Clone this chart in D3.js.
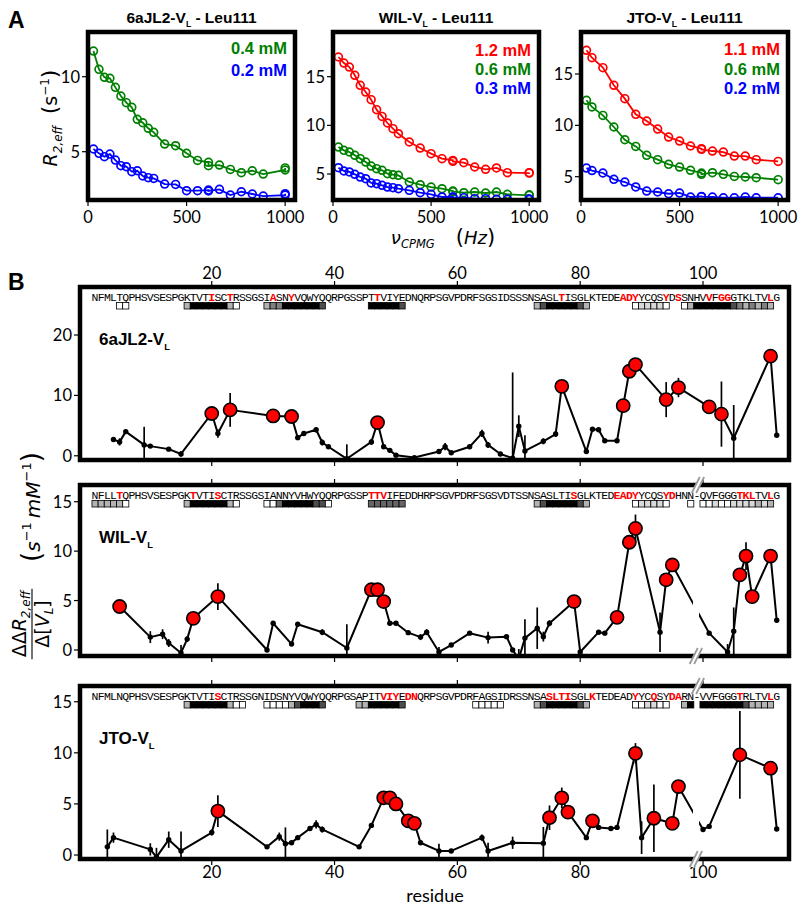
<!DOCTYPE html>
<html><head><meta charset="utf-8">
<script src="https://cdn.jsdelivr.net/npm/d3@7"></script>
<style>body{margin:0;background:#fff}</style>
</head><body><svg id="c" width="800" height="911"></svg>
<script>
// ---------------- DATA ----------------
// Panel A: CPMG dispersion of Leu111
const nuA12 = [27.8,55.6,83.3,111.1,138.9,166.7,194.4,222.2,250,277.8,305.6,333.3,388.9,444.4,500,555.6,611.1,611.1,666.7,722.2,777.8,833.3,888.9,1000,1000];
const nuA3 = [27.8,55.6,111.1,166.7,222.2,277.8,333.3,388.9,444.4,500,555.6,611.1,611.1,666.7,722.2,777.8,833.3,888.9,1000];
const a1Green = [11.71,10.49,9.96,9.89,9.29,8.71,8.27,7.96,7.16,6.93,6.56,6.29,5.51,5.40,4.89,4.42,4.29,4.07,4.11,3.82,3.60,3.73,3.51,3.78,3.92];
const a1Blue  = [5.18,4.89,4.67,4.84,4.44,4.07,4.00,3.67,3.73,3.38,3.27,3.22,2.84,2.82,2.40,2.40,2.44,2.38,2.49,2.11,2.33,2.18,2.04,2.11,2.20];
const a2Red   = [17.02,16.40,15.99,15.14,14.11,13.42,12.64,11.61,10.92,10.24,9.66,9.14,8.29,7.67,7.09,6.58,6.40,6.30,6.16,5.72,5.48,5.62,5.14,5.10,5.14];
const a2Green = [7.77,7.43,7.26,6.92,6.58,6.23,5.82,5.55,5.38,5.03,4.93,4.86,4.18,3.90,3.66,3.49,3.25,3.20,3.08,3.15,3.05,3.15,2.91,2.81,2.86];
const a2Blue  = [5.65,5.31,5.21,4.97,4.69,4.52,4.08,4.01,3.84,3.66,3.60,3.49,3.32,3.08,2.91,2.64,2.64,2.60,2.57,2.47,2.47,2.40,2.40,2.40,2.43];
const a3Red   = [17.31,16.59,15.62,13.90,12.60,11.07,10.42,9.64,8.86,8.47,7.99,7.73,7.66,7.50,7.40,7.01,7.01,6.66,6.49];
const a3Green = [12.44,11.79,10.97,9.84,8.60,7.95,7.08,6.66,6.20,5.94,5.62,5.36,5.23,5.39,5.23,5.03,4.97,4.90,4.71];
const a3Blue  = [5.84,5.60,5.36,4.74,4.48,4.00,3.60,3.51,3.34,3.41,3.02,3.08,3.05,3.02,2.95,2.95,3.02,2.95,2.95];
const concA1 = ['0.4 mM','0.2 mM'];
const concA2 = ['1.2 mM','0.6 mM','0.3 mM'];
const concA3 = ['1.1 mM','0.6 mM','0.2 mM'];
const xTicksA = [0,500,1000];

// Panel B: per-residue ΔΔR2,eff
const res6a = [4,5,6,9,10,13,15,20,21,23,30,33,34,35,37,38,39,42,46,47,48,49,50,53,57,58,59,62,64,65,67,69,70,71,74,76,77,81,82,83,84,86,87,88,89,94,96,101,103,105,111,112];
const val6a = [2.7,2.3,4.0,1.8,1.6,1.1,0.3,7.0,3.7,7.6,6.6,6.5,3.0,3.7,4.3,2.2,1.5,-0.5,2.3,5.5,1.5,0.9,0.1,-0.3,0.7,1.5,0.5,1.5,3.7,1.8,0.3,-0.4,4.9,0.8,2.4,3.6,11.5,0.7,4.4,4.3,2.5,2.5,8.3,14.0,15.1,9.3,11.3,8.1,6.9,2.9,16.5,3.4];
const err6a = [0.4,0.6,0.3,3.0,0.3,0.2,0.4,0.5,0.7,2.8,0.5,0.4,0.4,0.3,0.4,0.5,0.2,2.4,0.5,0.8,0.2,0.2,0.2,0.2,0.3,0.6,0.2,0.2,0.6,0.5,0.2,14.2,1.8,2.6,0.5,0.5,0.5,0.2,0.2,0.2,0.2,0.2,0.3,0.4,0.4,2.9,1.6,0.3,5.4,5.5,0.4,0.2];
const red6a = [20,23,30,33,47,77,87,88,89,94,96,101,103,111];

const resWIL = [5,10,12,13,15,16,17,21,29,30,33,34,38,42,46,47,48,49,50,52,54,55,57,59,62,65,68,69,70,71,73,74,75,79,80,83,84,86,88,89,93,94,95,101,104,105,106,107,108,111,112];
const valWIL = [4.4,1.3,1.6,0.7,-0.3,1.1,3.2,5.4,0.0,2.7,0.6,2.6,1.8,0.2,6.1,6.1,4.9,2.7,2.7,1.75,1.3,1.8,-0.2,0.5,1.7,1.25,1.35,0.0,-0.9,1.2,2.2,1.35,2.7,4.9,-0.2,1.8,1.7,3.3,10.9,12.3,1.8,7.1,8.6,1.7,-0.2,1.9,7.6,9.5,5.4,9.5,3.0];
const errWIL = [0.3,0.6,0.5,0.4,0.8,0.3,0.3,1.35,0.2,0.2,0.2,0.2,0.3,2.4,0.3,0.3,0.4,0.2,0.2,0.2,0.3,0.3,0.5,0.2,0.2,0.6,0.2,0.2,1.0,1.9,2.1,0.5,0.3,0.3,0.2,0.2,0.2,0.3,0.3,1.4,2.0,0.3,0.3,0.2,0.8,2.4,0.3,1.4,0.3,0.3,0.2];
const redWIL = [5,17,21,46,47,48,79,86,88,89,94,95,106,107,108,111];

const resJTO = [3,4,10,11,13,15,20,21,29,31,32,33,34,36,37,38,44,46,48,49,50,52,53,54,57,59,64,65,69,74,75,77,78,81,82,83,85,86,89,90,92,95,96,100,101,106,111,112];
const valJTO = [0.8,1.7,0.55,-0.2,1.5,0.4,2.2,4.3,0.8,1.8,1.1,1.2,1.7,2.6,3.0,2.5,0.8,2.9,5.6,5.6,5.0,3.35,3.1,1.2,0.4,0.4,1.7,0.4,1.2,1.15,3.65,5.6,4.2,1.7,3.35,2.7,2.6,2.7,9.95,1.7,3.6,3.1,6.7,2.5,2.8,9.8,8.5,2.55];
const errJTO = [1.7,0.5,0.6,0.9,0.8,1.9,0.3,1.55,0.2,0.4,1.6,0.2,0.2,0.2,0.4,0.3,0.2,0.2,0.3,0.3,0.3,0.3,0.3,0.2,0.7,0.2,0.3,0.8,0.6,1.6,1.2,1.0,0.3,0.2,0.3,0.2,0.2,0.2,1.0,1.6,3.3,0.3,0.3,0.2,0.2,4.3,0.3,0.2];
const redJTO = [21,48,49,50,52,53,75,77,78,82,89,92,95,96,106,111];

const seq6a  = "NFMLTQPHSVSESPGKTVTISCTRSSGSIASNYVQWYQQRPGSSPTTVIYEDNQRPSGVPDRFSGSIDSSSNSASLTISGLKTEDEADYYCQSYDSSNHVVFGGGTKLTVLG";
const seqWIL = "NFLLTQPHSVSESPGKTVTISCTRSSGSIANNYVHWYQQRPGSSPTTVIFEDDHRPSGVPDRFSGSVDTSSNSASLTISGLKTEDEADYYCQSYDHNN-QVFGGGTKLTVLG";
const seqJTO = "NFMLNQPHSVSESPGKTVTISCTRSSGNIDSNYVQWYQQRPGSAPITVIYEDNQRPSGVPDRFAGSIDRSSNSASLTISGLKTEDEADYYCQSYDARN-VVFGGGTRLTVLG";
const seqRed6a  = [20,23,30,33,47,77,87,88,89,94,96,101,103,104,111];
const seqRedWIL = [5,17,21,46,47,48,79,86,87,88,89,94,95,106,107,108,111];
const seqRedJTO = [21,48,49,50,52,53,75,76,77,78,82,89,92,95,96,106,111];

// structural shading boxes: [first residue, shades (0 white .. 1 black)]
const box6a  = [[5,[0,0]],[16,[.3,1,1,1,1,1,1,.3,0]],[29,[.3,.5,.5,1,1,1,1,1,1,.7]],[46,[1,1,1,1,1,.7]],[73,[.3,.7,1,1,1,1,1,.7,.3]],[89,[0,.15,.15,.15,.15,0]],[97,[0,.3,1,1,1,1,1,1,.7,.5,.3,.5,.3,.5,.3]]];
const boxWIL = [[1,[.3,.3,.3,.3,.3,0]],[16,[.3,1,1,1,1,1,1,.3,0]],[29,[0,0,.6,1,1,1,1,1,.7,.7,0]],[46,[.6,.6,.6,.6,.6,.6]],[73,[.3,.7,1,1,1,1,1,.7,.3]],[89,[0,.15,.15,.15,.15,0]],[98,[0]],[100,[0,0,.15,0,0,.15,.15,.15,.15,.3,.15,.3]]];
const boxJTO = [[16,[.3,1,1,1,1,1,1,.3,0,0]],[29,[0,0,0,0,.3,.7,1,1,1,.7]],[44,[.3,.3,1,1,1,1,1,.7]],[63,[0,0,0,0,0]],[73,[.3,.7,1,1,1,1,1,.7,.3]],[89,[0,0,.15,.15,0,0]],[97,[.3,1]],[100,[1,1,1,1,1,1,1,.7,.3,.3,.3,.3]]];
const xTicksB = [20,40,60,80,100];

// ---------------- DRAW ----------------
const svg = d3.select('#c');
svg.append('rect').attr('width',800).attr('height',911).attr('fill','#fff');
const defs = svg.append('defs');
const GREEN='#008000', BLUE='#0000ff', RED='#ff0000';
const tickFont = 'Lato, "DejaVu Sans", sans-serif';
const boldFont = '"Liberation Sans", Arial, sans-serif';
const monoFont = '"Liberation Mono", "DejaVu Sans Mono", monospace';
const mathFont = '"DejaVu Sans", sans-serif';

function subText(sel, x, y, main, sub, rest, size, anchor){
  const t = sel.append('text').attr('x',x).attr('y',y).attr('font-family',boldFont)
    .attr('font-weight','bold').attr('font-size',size).attr('text-anchor',anchor||'start');
  t.append('tspan').text(main);
  t.append('tspan').attr('font-size',size*0.55).attr('dy',size*0.28).text(sub);
  if(rest) t.append('tspan').attr('font-size',size).attr('dy',-size*0.28).text(rest);
  return t;
}

// Panel letters
svg.append('text').attr('x',8).attr('y',28).attr('font-family',boldFont).attr('font-weight','bold').attr('font-size',23).text('A');
svg.append('text').attr('x',8).attr('y',290).attr('font-family',boldFont).attr('font-weight','bold').attr('font-size',23).text('B');

// ---- Panel A ----
const aPanels = [
  {x0:88, x1:295, yDom:[1.78,12.98], yTicks:[5,10], name:'6aJL2', nu:nuA12,
   series:[{v:a1Green,c:GREEN},{v:a1Blue,c:BLUE}], conc:concA1, cc:[GREEN,BLUE], ly:[48,70]},
  {x0:333, x1:539, yDom:[2.33,19.59], yTicks:[5,10,15], name:'WIL', nu:nuA12,
   series:[{v:a2Red,c:RED},{v:a2Green,c:GREEN},{v:a2Blue,c:BLUE}], conc:concA2, cc:[RED,GREEN,BLUE], ly:[50,69,88]},
  {x0:581, x1:788, yDom:[2.73,19.09], yTicks:[5,10,15], name:'JTO', nu:nuA3,
   series:[{v:a3Red,c:RED},{v:a3Green,c:GREEN},{v:a3Blue,c:BLUE}], conc:concA3, cc:[RED,GREEN,BLUE], ly:[49,69,88]}
];
const aTop=32, aBot=200;
aPanels.forEach((p,i)=>{
  const x = d3.scaleLinear().domain([0,1050]).range([p.x0,p.x1]);
  const y = d3.scaleLinear().domain(p.yDom).range([aBot,aTop]);
  const cid='clipA'+i;
  defs.append('clipPath').attr('id',cid).append('rect').attr('x',p.x0).attr('y',aTop).attr('width',p.x1-p.x0).attr('height',aBot-aTop);
  const g = svg.append('g').attr('clip-path',`url(#${cid})`);
  p.series.forEach(s=>{
    const pts = p.nu.map((n,k)=>[n,s.v[k]]);
    g.append('path').datum(pts).attr('fill','none').attr('stroke',s.c).attr('stroke-width',1.8)
      .attr('d',d3.line().x(d=>x(d[0])).y(d=>y(d[1])));
    g.selectAll(null).data(pts).enter().append('circle').attr('cx',d=>x(d[0])).attr('cy',d=>y(d[1]))
      .attr('r',3.9).attr('fill','none').attr('stroke',s.c).attr('stroke-width',1.7);
  });
  svg.append('rect').attr('x',p.x0).attr('y',aTop).attr('width',p.x1-p.x0).attr('height',aBot-aTop)
    .attr('fill','none').attr('stroke','#000').attr('stroke-width',4.5);
  // ticks
  xTicksA.forEach(t=>{
    svg.append('line').attr('x1',x(t)).attr('x2',x(t)).attr('y1',aBot+2).attr('y2',aBot+6).attr('stroke','#000').attr('stroke-width',1.2);
    svg.append('text').attr('x',x(t)).attr('y',223).attr('text-anchor','middle').attr('font-family',tickFont).attr('font-size',16.5).text(t);
  });
  p.yTicks.forEach(t=>{
    svg.append('line').attr('x1',p.x0-2).attr('x2',p.x0-6).attr('y1',y(t)).attr('y2',y(t)).attr('stroke','#000').attr('stroke-width',1.2);
    svg.append('text').attr('x',p.x0-8).attr('y',y(t)+6).attr('text-anchor','end').attr('font-family',tickFont).attr('font-size',16.5).text(t);
  });
  // title
  subText(svg,(p.x0+p.x1)/2,23,p.name+'-V','L',' - Leu111',15.5,'middle');
  // legend
  p.conc.forEach((c,k)=>{
    svg.append('text').attr('x',p.x1-8).attr('y',p.ly[k]+6).attr('text-anchor','end').attr('font-family',boldFont)
      .attr('font-weight','bold').attr('font-size',16.5).attr('fill',p.cc[k]).text(c);
  });
});
// A y label
{
  const t = svg.append('g').attr('transform','translate(57,118) rotate(-90)').append('text')
    .attr('text-anchor','middle').attr('font-family',mathFont).attr('font-size',19);
  t.append('tspan').attr('font-style','italic').text('R');
  t.append('tspan').attr('font-style','italic').attr('font-size',12).attr('dy',5).text('2,eff');
  t.append('tspan').attr('font-size',22).attr('dy',-5).text('\u2009 (');
  t.append('tspan').text('s');
  t.append('tspan').attr('font-size',12).attr('dy',-8).text('\u22121');
  t.append('tspan').attr('font-size',22).attr('dy',8).text(')');
}
// A x label
{
  const t = svg.append('text').attr('x',443).attr('y',244).attr('text-anchor','middle')
    .attr('font-family',mathFont).attr('font-size',18);
  t.append('tspan').attr('font-style','italic').text('\u03bd');
  t.append('tspan').attr('font-style','italic').attr('font-size',11.5).attr('dy',4).text('CPMG');
  t.append('tspan').attr('font-size',21).attr('dy',-4).text('\u2003(');
  t.append('tspan').attr('font-style','italic').text('Hz');
  t.append('tspan').attr('font-size',21).text(')');
}

// ---- Panel B ----
const xB = d3.scaleLinear().domain([-1.45,114]).range([80,789]);
const bPanels = [
  {name:'6aJL2', top:287, bot:460, yDom:[-0.7,27.95], yTicks:[0,10,20], res:res6a, val:val6a, err:err6a, red:red6a, seq:seq6a, seqRed:seqRed6a, boxes:box6a, brk:false},
  {name:'WIL', top:485, bot:656, yDom:[-0.61,16.69], yTicks:[0,5,10,15], res:resWIL, val:valWIL, err:errWIL, red:redWIL, seq:seqWIL, seqRed:seqRedWIL, boxes:boxWIL, brk:true},
  {name:'JTO', top:686, bot:859, yDom:[-0.39,16.54], yTicks:[0,5,10,15], res:resJTO, val:valJTO, err:errJTO, red:redJTO, seq:seqJTO, seqRed:seqRedJTO, boxes:boxJTO, brk:true}
];
const BX0=80, BX1=789, BRK=98.85;
function shade(s){ const v=Math.round(255*(1-s)); return `rgb(${v},${v},${v})`; }
function breakMark(cx, cy){
  svg.append('line').attr('x1',cx-4).attr('y1',cy+8).attr('x2',cx+4).attr('y2',cy-8).attr('stroke','#fff').attr('stroke-width',5);
  [-2.2,2.2].forEach(o=>svg.append('line').attr('x1',cx-4+o).attr('y1',cy+8).attr('x2',cx+4+o).attr('y2',cy-8)
    .attr('stroke','#9a9a9a').attr('stroke-width',1.8));
}
bPanels.forEach((p,i)=>{
  const y = d3.scaleLinear().domain(p.yDom).range([p.bot,p.top]);
  const pts = p.res.map((r,k)=>({r:r, v:p.val[k], e:p.err[k], red:p.red.includes(r)}));
  const clips = p.brk ? [[BX0,xB(BRK-0.5)],[xB(BRK+0.5),BX1]] : [[BX0,BX1]];
  const cidAll='clipBall'+i;
  defs.append('clipPath').attr('id',cidAll).append('rect').attr('x',BX0).attr('y',p.top).attr('width',BX1-BX0).attr('height',p.bot-p.top);
  const gAll = svg.append('g').attr('clip-path',`url(#${cidAll})`);
  // error bars
  gAll.selectAll(null).data(pts).enter().append('line')
    .attr('x1',d=>xB(d.r)).attr('x2',d=>xB(d.r)).attr('y1',d=>y(d.v-d.e)).attr('y2',d=>y(d.v+d.e))
    .attr('stroke','#000').attr('stroke-width',1.7);
  // line (possibly broken)
  clips.forEach((c,k)=>{
    const cid='clipB'+i+'_'+k;
    defs.append('clipPath').attr('id',cid).append('rect').attr('x',c[0]).attr('y',p.top).attr('width',c[1]-c[0]).attr('height',p.bot-p.top);
    svg.append('g').attr('clip-path',`url(#${cid})`).append('path').datum(pts).attr('fill','none')
      .attr('stroke','#000').attr('stroke-width',2).attr('stroke-linejoin','round')
      .attr('d',d3.line().x(d=>xB(d.r)).y(d=>y(d.v)));
  });
  const gPts = svg.append('g').attr('clip-path',`url(#${cidAll})`);
  gPts.selectAll(null).data(pts.filter(d=>!d.red)).enter().append('circle')
    .attr('cx',d=>xB(d.r)).attr('cy',d=>y(d.v)).attr('r',2.7).attr('fill','#000');
  gPts.selectAll(null).data(pts.filter(d=>d.red)).enter().append('circle')
    .attr('cx',d=>xB(d.r)).attr('cy',d=>y(d.v)).attr('r',6.6).attr('fill',RED).attr('stroke','#000').attr('stroke-width',1.6);
  // sequence
  const seqY = p.top+14;
  p.seq.split('').forEach((ch,k)=>{
    const r=k+1, isRed=p.seqRed.includes(r);
    svg.append('text').attr('x',xB(r)).attr('y',seqY).attr('text-anchor','middle').attr('font-family',monoFont)
      .attr('font-size',11.5).attr('font-weight',isRed?'bold':'normal').attr('fill',isRed?RED:'#000').text(ch);
  });
  // shading boxes
  p.boxes.forEach(b=>{
    b[1].forEach((s,k)=>{
      const r=b[0]+k;
      svg.append('rect').attr('x',xB(r-0.5)).attr('y',p.top+15.5).attr('width',xB(1)-xB(0)).attr('height',6.5)
        .attr('fill',shade(s)).attr('stroke','#000').attr('stroke-width',0.8);
    });
  });
  // frame
  svg.append('rect').attr('x',BX0).attr('y',p.top).attr('width',BX1-BX0).attr('height',p.bot-p.top)
    .attr('fill','none').attr('stroke','#000').attr('stroke-width',4.5);
  // ticks
  xTicksB.forEach(t=>{
    svg.append('line').attr('x1',xB(t)).attr('x2',xB(t)).attr('y1',p.bot+2).attr('y2',p.bot+6).attr('stroke','#000').attr('stroke-width',1.2);
    svg.append('line').attr('x1',xB(t)).attr('x2',xB(t)).attr('y1',p.top-2).attr('y2',p.top-6).attr('stroke','#000').attr('stroke-width',1.2);
    if(i===0) svg.append('text').attr('x',xB(t)).attr('y',279).attr('text-anchor','middle').attr('font-family',tickFont).attr('font-size',16.5).text(t);
    if(i===2) svg.append('text').attr('x',xB(t)).attr('y',878).attr('text-anchor','middle').attr('font-family',tickFont).attr('font-size',16.5).text(t);
  });
  p.yTicks.forEach(t=>{
    svg.append('line').attr('x1',BX0-2).attr('x2',BX0-6).attr('y1',y(t)).attr('y2',y(t)).attr('stroke','#000').attr('stroke-width',1.2);
    svg.append('text').attr('x',BX0-8).attr('y',y(t)+6).attr('text-anchor','end').attr('font-family',tickFont).attr('font-size',16.5).text(t);
  });
  if(p.brk){ breakMark(xB(BRK),p.bot); breakMark(xB(BRK)+2,p.top); }
  // panel label
  subText(svg,99,p.top+58,p.name+'-V','L',null,17,'start');
});
// x label
svg.append('text').attr('x',435).attr('y',902).attr('text-anchor','middle').attr('font-family',tickFont).attr('font-size',18).text('residue');
// B y label
{
  const g = svg.append('g').attr('transform','translate(31,552) rotate(-90)');
  const num = g.append('text').attr('x',-72).attr('y',-5).attr('text-anchor','middle').attr('font-family',mathFont).attr('font-size',19);
  num.append('tspan').text('\u0394\u0394');
  num.append('tspan').attr('font-style','italic').text('R');
  num.append('tspan').attr('font-style','italic').attr('font-size',12).attr('dy',4).text('2,eff');
  const den = g.append('text').attr('x',-72).attr('y',18).attr('text-anchor','middle').attr('font-family',mathFont).attr('font-size',19);
  den.append('tspan').text('\u0394[');
  den.append('tspan').attr('font-style','italic').text('V');
  den.append('tspan').attr('font-style','italic').attr('font-size',12).attr('dy',4).text('L');
  den.append('tspan').attr('dy',-4).text(']');
  const w = num.node().getComputedTextLength()+4;
  g.append('line').attr('x1',-72-w/2).attr('x2',-72+w/2).attr('y1',1).attr('y2',1).attr('stroke','#000').attr('stroke-width',1.1);
  const u = g.append('text').attr('x',45).attr('y',9).attr('text-anchor','middle').attr('font-family',mathFont).attr('font-size',20);
  u.append('tspan').attr('font-size',26).text('(');
  u.append('tspan').attr('font-style','italic').text('s');
  u.append('tspan').attr('font-size',13).attr('dy',-9).text('\u22121');
  u.append('tspan').attr('dy',9).attr('font-style','italic').text('\u2009mM');
  u.append('tspan').attr('font-size',13).attr('dy',-9).text('\u22121');
  u.append('tspan').attr('font-size',26).attr('dy',9).text(')');
}
</script></body></html>
